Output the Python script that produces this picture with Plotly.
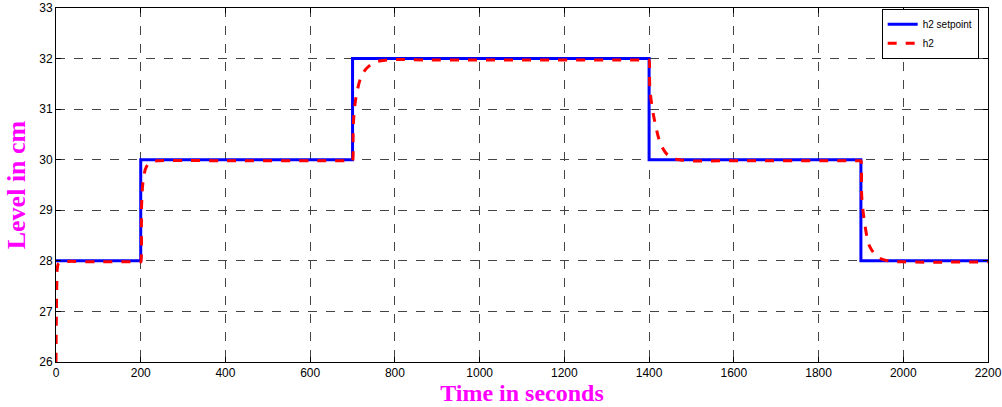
import plotly.graph_objects as go

# Setpoint (step sequence)
setpoint_t = [0, 200, 200, 700, 700, 1400, 1400, 1900, 1900, 2200]
setpoint_v = [28, 28, 30, 30, 32, 32, 30, 30, 28, 28]

h2_t = [0, 1, 2, 3, 6, 15, 100, 199,
        200, 202, 206, 214, 226, 245, 400, 699,
        700, 702, 710, 725, 749, 780, 900, 1399,
        1400, 1402, 1414, 1430, 1450, 1480, 1600, 1899,
        1900, 1902, 1910, 1921, 1941, 1964, 2000, 2200]
h2_v = [26.0, 27.0, 27.6, 27.85, 27.95, 27.98, 27.98, 27.98,
        27.98, 29.08, 29.6, 29.87, 29.96, 29.98, 29.98, 29.98,
        29.98, 30.73, 31.32, 31.72, 31.91, 31.97, 31.97, 31.97,
        31.97, 31.39, 30.73, 30.26, 30.05, 29.99, 29.98, 29.98,
        29.98, 29.27, 28.68, 28.28, 28.07, 28.0, 27.98, 27.98]

x_ticks = list(range(0, 2201, 200))
y_ticks = list(range(26, 34))

fig = go.Figure()
fig.add_trace(go.Scatter(x=setpoint_t, y=setpoint_v, mode="lines", name="h2 setpoint",
                         line=dict(color="#0000ff", width=3)))
fig.add_trace(go.Scatter(x=h2_t, y=h2_v, mode="lines", name="h2",
                         line=dict(color="#ff0000", width=3, dash="dash"),
                         line_shape="spline"))

axis_common = dict(showline=True, linecolor="black", linewidth=1, mirror="ticks",
                   ticks="inside", ticklen=5, tickcolor="black",
                   showgrid=True, gridcolor="#444444", gridwidth=1, griddash="dash",
                   zeroline=False, automargin=False,
                   tickfont=dict(family="Liberation Sans, Arial", size=12, color="black"))

fig.update_xaxes(range=[0, 2200], tickvals=x_ticks, **axis_common,
                 title=dict(text="<b>Time in seconds</b>", standoff=4,
                            font=dict(family="Liberation Serif, Times New Roman", size=24, color="#ff00ff")))
fig.update_yaxes(range=[26, 33], tickvals=y_ticks, **axis_common,
                 title=dict(text="<b>Level in cm</b>", standoff=6,
                            font=dict(family="Liberation Serif, Times New Roman", size=26, color="#ff00ff")))

fig.update_layout(
    width=1002, height=407,
    margin=dict(l=56, r=14, t=8, b=45),
    paper_bgcolor="white", plot_bgcolor="white",
    showlegend=True,
    legend=dict(x=0.99, y=0.998, xanchor="right", yanchor="top",
                bgcolor="white", bordercolor="black", borderwidth=1,
                font=dict(family="Liberation Sans, Arial", size=10, color="black"),
                tracegroupgap=0, itemwidth=30),
)

fig.write_html("out.html", config={"displayModeBar": False},
               post_script="document.body.style.margin='0';document.body.style.overflow='hidden';")
